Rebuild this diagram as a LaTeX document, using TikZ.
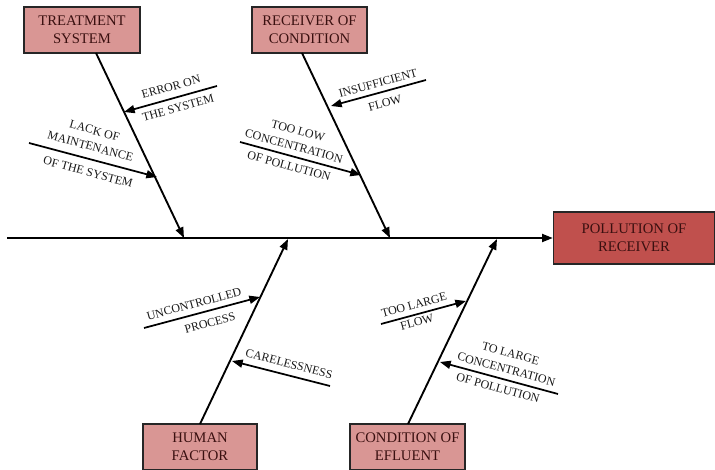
\documentclass[tikz,border=0pt]{standalone}
\usepackage{fontspec}
\setmainfont{Liberation Serif}
\usetikzlibrary{arrows.meta,calc}
\definecolor{boxpink}{HTML}{D99694}
\definecolor{boxred}{HTML}{C0504D}
\definecolor{boxtext}{HTML}{3A1010}
\tikzset{
  causebox/.style={draw=black!85, line width=0.9pt, fill=boxpink, text=boxtext,
    align=center, inner sep=0pt, font=\fontsize{11}{13.5}\selectfont},
  effectbox/.style={causebox, fill=boxred},
  bone/.style={line width=1.4pt, -{Triangle[length=8pt,width=6pt]}},
  subbone/.style={line width=1.3pt, -{Triangle[length=8pt,width=6pt]}},
  lbl/.style={font=\fontsize{9}{12.2}\selectfont, inner sep=0pt, align=center, text=black!90}
}
\begin{document}
\begin{tikzpicture}[x=0.75pt,y=-0.75pt]
\useasboundingbox (0,0) rectangle (715,470);
% boxes
\node[causebox, minimum width=87pt, minimum height=34.5pt] (tbox) at (82,30) {TREATMENT\\SYSTEM};
\node[causebox, minimum width=86.25pt, minimum height=34.5pt] (rbox) at (309.5,30) {RECEIVER OF\\CONDITION};
\node[effectbox, minimum width=121pt, minimum height=39pt] (pbox) at (634,238) {POLLUTION OF\\RECEIVER};
\node[causebox, minimum width=85.5pt, minimum height=34.5pt] (hbox) at (200,447) {HUMAN\\FACTOR};
\node[causebox, minimum width=86.25pt, minimum height=34.5pt] (ebox) at (407.5,447) {CONDITION OF\\EFLUENT};
% spine
\coordinate (s0) at (7,238);
\draw[bone] (s0) -- (pbox.west);
% bone coordinates
\coordinate (t0) at (96,53);   \coordinate (t1) at (184,238);
\coordinate (r0) at (302,53);  \coordinate (r1) at (390,238);
\coordinate (h0) at (200,424); \coordinate (h1) at (288,239);
\coordinate (e0) at (408,424); \coordinate (e1) at (497,239);
\draw[bone] (t0) -- (t1);
\draw[bone] (r0) -- (r1);
\draw[bone] (h0) -- (h1);
\draw[bone] (e0) -- (e1);
% sub-causes
\coordinate (a0) at (217,86);  \coordinate (a1) at (124,112);
\coordinate (b0) at (29,143);  \coordinate (b1) at (157,177);
\coordinate (c0) at (426,80);  \coordinate (c1) at (331,106);
\coordinate (d0) at (240,142); \coordinate (d1) at (361,175);
\coordinate (f0) at (144,328); \coordinate (f1) at (260,297);
\coordinate (g0) at (330,386); \coordinate (g1) at (232,361);
\coordinate (k0) at (381,324); \coordinate (k1) at (466,301);
\coordinate (m0) at (558,394); \coordinate (m1) at (440,362);
\draw[subbone] (a0) -- (a1);
\draw[subbone] (b0) -- (b1);
\draw[subbone] (c0) -- (c1);
\draw[subbone] (d0) -- (d1);
\draw[subbone] (f0) -- (f1);
\draw[subbone] (g0) -- (g1);
\draw[subbone] (k0) -- (k1);
\draw[subbone] (m0) -- (m1);
% labels
\node[lbl, rotate=15.6] (la1) at (171,87) {ERROR ON};
\node[lbl, rotate=15.6] (la2) at (178,108) {THE SYSTEM};
\node[lbl, rotate=-15] (lb1) at (92.5,138.5) {LACK OF\\MAINTENANCE};
\node[lbl, rotate=-15] (lb3) at (88,172) {OF THE SYSTEM};
\node[lbl, rotate=15.3] (lc1) at (378,83) {INSUFFICIENT};
\node[lbl, rotate=15.3] (lc2) at (385,103) {FLOW};
\node[lbl, rotate=-15.3] (ld1) at (296,138.5) {TOO LOW\\CONCENTRATION};
\node[lbl, rotate=-15.3] (ld3) at (289,166) {OF POLLUTION};
\node[lbl, rotate=15.2] (lf1) at (194,304) {UNCONTROLLED};
\node[lbl, rotate=15.2] (lf2) at (210,323) {PROCESS};
\node[lbl, rotate=-14.5] (lg1) at (289,364) {CARELESSNESS};
\node[lbl, rotate=15.3] (lk1) at (414,305) {TOO LARGE};
\node[lbl, rotate=15.3] (lk2) at (417,322) {FLOW};
\node[lbl, rotate=-15.2] (lm1) at (508.5,361.5) {TO LARGE\\CONCENTRATION};
\node[lbl, rotate=-15.2] (lm3) at (498,388) {OF POLLUTION};
\end{tikzpicture}
\end{document}
